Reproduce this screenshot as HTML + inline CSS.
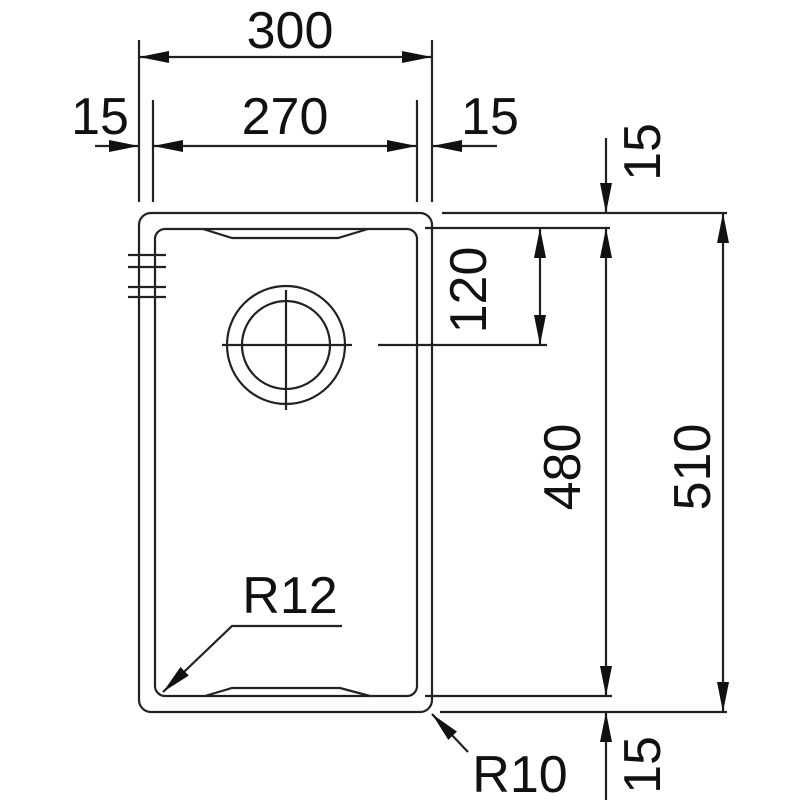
<!DOCTYPE html>
<html><head><style>html,body{margin:0;padding:0;background:#fff}svg{display:block}</style></head>
<body>
<svg width="800" height="800" viewBox="0 0 800 800" xmlns="http://www.w3.org/2000/svg">
<defs>
<marker id="a" viewBox="0 0 30 12" refX="30" refY="6" markerWidth="30" markerHeight="12" markerUnits="userSpaceOnUse" orient="auto-start-reverse">
<path d="M0,0 L30,6 L0,12 Z" fill="#111"/></marker>
</defs>
<g stroke="#222" stroke-width="2.2" fill="none">
<rect x="139" y="213" width="293" height="499" rx="12"/>
<rect x="155" y="229" width="262" height="467" rx="10"/>
<path d="M203,229 L232,238 L338,238 L368,229"/>
<path d="M205,696 L232,688 L340,688 L370,696"/>
<path d="M128,255 H166 M128,267 H166 M128,287 H166 M128,297 H166"/>
<circle cx="286" cy="345" r="59"/>
<circle cx="286" cy="345" r="44"/>
<path d="M222,345 H352 M286,290 V410 M378,345 H547"/>
<path d="M139,40 V202 M432,40 V202 M153,100 V202 M417,100 V202"/>
<path d="M139,57 H432" marker-start="url(#a)" marker-end="url(#a)"/>
<path d="M153,146 H417" marker-start="url(#a)" marker-end="url(#a)"/>
<path d="M95,146 H139" marker-end="url(#a)"/>
<path d="M497,146 H432" marker-end="url(#a)"/>
<path d="M442,213 H727 M425,228 H610 M425,696 H612 M440,712 H727"/>
<path d="M606,138 V213" marker-end="url(#a)"/>
<path d="M606,228 V696" marker-start="url(#a)" marker-end="url(#a)"/>
<path d="M606,800 V712" marker-end="url(#a)"/>
<path d="M723,213 V712" marker-start="url(#a)" marker-end="url(#a)"/>
<path d="M540,228 V345" marker-start="url(#a)" marker-end="url(#a)"/>
<path d="M342,626 H232 L163,692" marker-end="url(#a)"/>
<path d="M468,752 L432,714" marker-end="url(#a)"/>
</g>
<g font-family="Liberation Sans, sans-serif" font-size="52" fill="#111" text-anchor="middle">
<text x="290" y="48">300</text>
<text x="285" y="134">270</text>
<text x="100" y="134">15</text>
<text x="490" y="134">15</text>
<text x="290" y="613">R12</text>
<text x="520" y="792">R10</text>
<text transform="translate(660,152) rotate(-90)">15</text>
<text transform="translate(486,290) rotate(-90)">120</text>
<text transform="translate(580,467) rotate(-90)">480</text>
<text transform="translate(710,467) rotate(-90)">510</text>
<text transform="translate(660,765) rotate(-90)">15</text>
</g>
</svg>
</body></html>
